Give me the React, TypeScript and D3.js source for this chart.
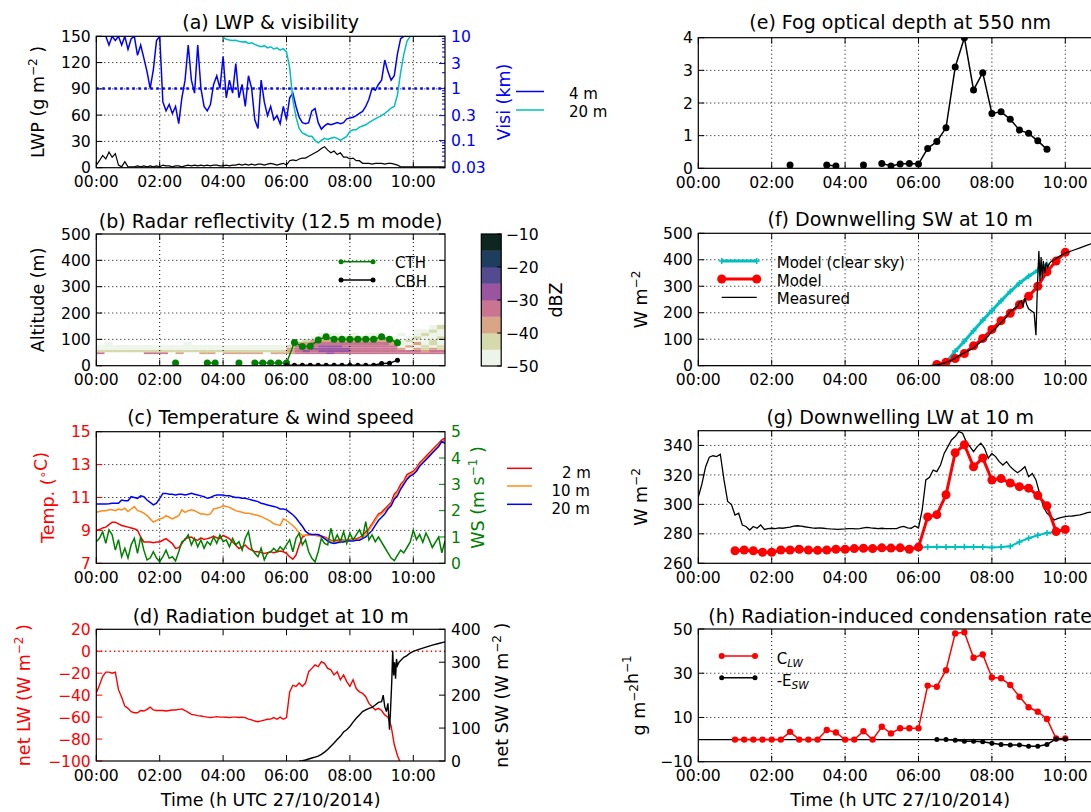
import React from "react";
import * as d3 from "d3";

type Box = { x0: number; x1: number; y0: number; y1: number };

const W = 1091;
const H = 812;
const FONT = "'DejaVu Sans', 'Liberation Sans', Arial, sans-serif";
const FS_TICK = 15.6;
const FS_LABEL = 17.5;
const FS_TITLE = 19;
const FS_LEG = 15;

const BLUE = "#0000ff";
const CYAN = "#00bfbf";
const RED = "#ff0000";
const GREEN = "#008000";
const ORANGE = "#ff8c1a";

const hourTicks = [0, 2, 4, 6, 8, 10];
const hourLabels = ["00:00", "02:00", "04:00", "06:00", "08:00", "10:00"];

const _ = null;

// ---------- time stamps ----------
const t6min = d3.range(111).map((i) => i / 10); // 00:00 .. 11:00 every 6 min
const tVis20 = d3.range(40, 111).map((i) => i / 10); // 04:00 .. 11:00
const tNetLW = d3.range(98).map((i) => i / 10); // 00:00 .. 09:42
const tQuarter = d3.range(37).map((i) => 1 + i / 4); // 01:00 .. 10:00
const tCth = d3.range(39).map((i) => i / 4); // 00:00 .. 09:30
const tCbh = d3.range(15).map((i) => 6 + i / 4); // 06:00 .. 09:30
const tSwModel = d3.range(15).map((i) => 6.5 + i / 4); // 06:30 .. 10:00
const tSwClear = d3.range(13).map((i) => 6.5 + i / 4); // 06:30 .. 09:30
const tEsw = d3.range(15).map((i) => 6.5 + i / 4);

// ---------- (a) LWP & visibility ----------
const lwp = [
  3, 8, 14, 10, 18, 12, 16, 3, 1, 7,
  1, 1, 1, 2, 1, 2, 1, 2, 1, 2,
  1, 3, 2, 2, 1, 2, 2, 1, 2, 3,
  2, 3, 2, 3, 2, 3, 2, 3, 3, 2,
  2, 3, 2, 3, 3, 4, 3, 4, 3, 4,
  3, 4, 4, 3, 4, 5, 4, 3, 4, 5,
  3, 8, 9, 8, 10, 11, 11, 13, 15, 17,
  19, 22, 24, 20, 17, 19, 15, 17, 12, 12,
  10, 11, 8, 8, 5, 5, 5, 4, 5, 5,
  5, 4, 5, 5, 4, 3, 1, 1, 1, 1,
  1, 1, 1, 1, 1, 1, 1, 1, 1, 1, 1,
];
const vis4m = [
  10, 10, 10, 10, 6.8, 10, 8.3, 10, 6.8, 10,
  5.6, 9, 10, 4.3, 6.8, 3.8, 2.1, 1.0, 2.3, 8.3,
  10, 0.55, 0.37, 0.49, 0.33, 0.45, 0.21, 0.66, 1.44, 6.8,
  1.44, 0.81, 6.8, 1.0, 0.45, 0.37, 0.49, 1.19, 1.75, 1.0,
  4.1, 0.66, 1.44, 0.81, 3.0, 0.66, 1.19, 0.45, 1.75, 1.0,
  0.25, 0.17, 1.44, 0.55, 0.3, 0.45, 0.25, 0.3, 0.21, 0.45,
  0.25, 0.66, 0.81, 0.45, 0.28, 0.22, 0.21, 0.22, 0.37, 0.41,
  0.22, 0.165, 0.19, 0.21, 0.2, 0.21, 0.22, 0.21, 0.22, 0.26,
  0.27, 0.28, 0.3, 0.33, 0.36, 0.45, 0.62, 1.0, 0.92, 1.19,
  1.44, 3.5, 2.1, 1.44, 1.75, 4.6, 9, 10, 10, 10,
  10, 10, 10, 10, 10, 10, 10, 10, 10, 10, 10,
];
const vis20m = [
  9.5, 8.8, 8.5, 8.3, 8.4, 8.0, 7.8, 7.9, 7.3, 7.5,
  7.0, 6.6, 6.3, 6.6, 6.0, 6.3, 5.7, 6.0, 5.4, 5.8,
  5.0, 2.5, 0.6, 0.28, 0.17, 0.14, 0.13, 0.12, 0.12, 0.1,
  0.09, 0.1, 0.11, 0.105, 0.11, 0.115, 0.11, 0.1, 0.11, 0.12,
  0.15, 0.16, 0.16, 0.18, 0.19, 0.2, 0.22, 0.24, 0.26, 0.28,
  0.3, 0.33, 0.37, 0.42, 0.45, 0.75, 2.0, 4.5, 8, 10,
  10, 10, 10, 10, 10, 10, 10, 10, 10, 10, 10,
];
const visTicks = [0.03, 0.1, 0.3, 1, 3, 10];
const visMinor = [0.04, 0.05, 0.06, 0.07, 0.08, 0.09, 0.2, 0.4, 0.5, 0.6, 0.7, 0.8, 0.9, 2, 4, 5, 6, 7, 8, 9];

// ---------- (b) radar ----------
const radarAltEdges = [44, 51, 60, 69, 78, 90, 100, 112, 125, 138, 155];
const radarRows = [
  [-33, _, _, _, _, _, -33, -34, -33, _, -37, _, _, -38, -37, _, -38, -37, -38, -36, -38, _, -38, -37,
    -36, -33, -32, -32, -31, -30, -31, -32, -31, -32, -31, -32, -33, -32, -32, -33, -32, -31, -33, -32],
  [-43, -43, -42, -43, -43, -44, -43, -43, -42, -43, -43, -43, -44, -43, -43, -42, -43, -43, -43, -44, -43, -43, -42, -43,
    -36, -33, -30, -31, -28, -27, -29, -30, -31, -31, -32, -31, -32, -33, -34, -35, -33, -36, -34, -35],
  [-47, -47, -47, -46, -47, -47, -47, -47, -46, -47, -47, -47, -47, -47, -46, -47, -47, -47, -47, -47, -46, -47, -47, -47,
    -40, -33, -31, -30, -27, -26, -28, -30, -31, -32, -31, -33, -32, -34, -38, -46, -37, -44, -38, -45],
  [-48.5, -48.5, -48.5, -48.5, -48.5, -48.5, -48.5, -48.5, -48.5, -48.5, -48.5, -48.5, -48.5, -48.5, -48.5, -48.5, -48.5, -48.5, -48.5, -48.5, -48.5, -48.5, -48.5, -48.5,
    -45, -34, -32, -31, -28, -27, -29, -31, -32, -31, -33, -32, -33, -35, -46, -38, -47, -41, -46, -42],
  [_, -49, _, _, _, _, _, _, _, _, _, -49, _, _, _, _, _, _, _, _, _, _, _, _,
    _, -38, -36, -34, -33, -32, -33, -34, -34, -33, -34, -35, -34, -37, -47, -46, -40, -47, -44, -47],
  [_, _, _, _, _, _, _, _, _, _, _, _, _, _, _, _, _, _, _, _, _, _, _, _,
    _, -46, -44, -40, -38, -37, -39, -38, -38, -39, -38, -37, -39, -42, -48, -42, -47, -46, -41, -47],
  [_, _, _, _, _, _, _, _, _, _, _, _, _, _, _, _, _, _, _, _, _, _, _, _,
    _, _, _, -47, -44, -42, -44, -45, -44, -43, -45, -43, -46, -48, _, -47, -43, -48, -46, -41],
  [_, _, _, _, _, _, _, _, _, _, _, _, _, _, _, _, _, _, _, _, _, _, _, _,
    _, _, _, _, -48, -47, -48, _, -48, _, -48, -47, _, _, -48, _, -47, -42, -48, -46],
  [_, _, _, _, _, _, _, _, _, _, _, _, _, _, _, _, _, _, _, _, _, _, _, _,
    _, _, _, _, _, _, _, _, _, _, _, _, _, _, _, _, -48, -47, -44, -48],
  [_, _, _, _, _, _, _, _, _, _, _, _, _, _, _, _, _, _, _, _, _, _, _, _,
    _, _, _, _, _, _, _, _, _, _, _, _, _, _, _, _, _, _, -48, -44],
];
const dbzBounds = [-50, -45, -40, -35, -30, -25, -20, -15, -10];
const dbzColors = ["#edf5ea", "#d5d9ac", "#d8a587", "#c97592", "#9a55a1", "#534a90", "#1e3e5e", "#0d2620"];
const dbzTicks = [-50, -40, -30, -20, -10];
const cth = [
  _, _, _, _, _, _, _, _, _, _, 10, _, _, _, 10, 10, _, _, 10, _,
  10, 10, 10, 10, 10, 88, 73, 74, 98, 110, 100, 100, 100, 100, 100, 100, 110, 100, 87,
];
const cbh = [2, 2, 2, 2, 2, 2, 2, 2, 2, 2, 2, 2, 8, 9, 21];

// ---------- (c) temperature & wind ----------
const temp2m = [
  9.0, 9.05, 9.15, 9.2, 9.35, 9.5, 9.5, 9.4, 9.3, 9.25,
  9.2, 9.15, 9.1, 9.0, 8.6, 8.3, 8.3, 8.3, 8.25, 8.3,
  8.3, 8.4, 8.5, 8.35, 8.2, 7.9, 7.95, 8.2, 8.5, 8.55,
  8.6, 8.45, 8.4, 8.55, 8.45, 8.5, 8.55, 8.65, 8.55, 8.5,
  8.7, 8.6, 8.5, 8.3, 8.1, 7.9, 8.0, 8.1, 7.9, 7.8,
  7.7, 7.7, 7.65, 7.6, 7.65, 7.7, 7.65, 7.7, 7.75, 7.7,
  7.6, 7.4, 7.25, 7.5, 8.1, 8.6, 8.7, 8.7, 8.7, 8.75,
  8.7, 8.65, 8.6, 8.5, 8.4, 8.35, 8.4, 8.45, 8.4, 8.4,
  8.45, 8.5, 8.5, 8.55, 8.7, 8.9, 9.1, 9.4, 9.7, 10.0,
  10.1, 10.3, 10.5, 10.7, 11.2, 11.4, 11.8, 12.0, 12.4, 12.5,
  12.6, 12.8, 13.1, 13.3, 13.5, 13.7, 13.9, 14.1, 14.3, 14.5, 14.6,
];
const temp10m = [
  10.1, 10.15, 10.2, 10.2, 10.25, 10.25, 10.2, 10.3, 10.25, 10.35,
  10.15, 10.3, 10.45, 10.2, 10.15, 10.05, 9.9, 9.7, 9.5, 9.6,
  9.7, 9.75, 9.9, 9.8, 9.7, 9.8, 9.9, 10.25, 10.1, 10.2,
  10.25, 10.2, 10.1, 10.0, 10.0, 9.95, 10.0, 10.3, 10.35, 10.4,
  10.5, 10.45, 10.4, 10.3, 10.2, 10.15, 10.1, 10.05, 10.05, 10.0,
  9.95, 9.9, 9.85, 9.75, 9.65, 9.55, 9.4, 9.35, 9.3, 9.7,
  9.6, 9.45, 9.3, 9.1, 8.85, 8.7, 8.7, 8.7, 8.7, 8.7,
  8.65, 8.6, 8.55, 8.45, 8.35, 8.3, 8.3, 8.35, 8.35, 8.35,
  8.4, 8.45, 8.45, 8.5, 8.6, 8.75, 9.0, 9.3, 9.6, 9.9,
  10.0, 10.2, 10.4, 10.6, 11.0, 11.3, 11.6, 11.9, 12.2, 12.4,
  12.5, 12.7, 13.0, 13.2, 13.4, 13.6, 13.8, 14.0, 14.2, 14.4, 14.5,
];
const temp20m = [
  10.6, 10.6, 10.6, 10.6, 10.62, 10.65, 10.65, 10.65, 10.85, 10.8,
  10.8, 11.05, 11.0, 10.95, 11.1, 11.05, 10.85, 10.7, 10.55, 10.65,
  10.95, 11.25, 11.25, 11.2, 11.2, 11.15, 11.2, 11.2, 11.15, 11.2,
  11.25, 11.2, 11.15, 11.1, 11.05, 10.95, 11.0, 11.1, 11.15, 11.15,
  11.15, 11.1, 11.1, 11.05, 11.0, 11.0, 10.95, 10.95, 10.9, 10.85,
  10.8, 10.75, 10.65, 10.6, 10.55, 10.5, 10.45, 10.4, 10.3, 10.3,
  10.25, 10.1, 9.95, 9.75, 9.5, 9.25, 8.95, 8.8, 8.75, 8.75,
  8.75, 8.65, 8.5, 8.35, 8.25, 8.2, 8.25, 8.3, 8.3, 8.35,
  8.35, 8.35, 8.4, 8.4, 8.5, 8.6, 8.8, 9.0, 9.3, 9.6,
  9.8, 10.0, 10.3, 10.5, 10.9, 11.1, 11.5, 11.8, 12.1, 12.3,
  12.4, 12.6, 12.9, 13.1, 13.3, 13.5, 13.7, 13.9, 14.1, 14.4, 14.3,
];
const windSpeed = [
  0.82, 0.95, 1.2, 0.76, 1.27, 1.08, 0.5, 0.9, 0.25, 0.57,
  0.2, 0.7, 0.95, 0.38, 1.0, 0.5, 0.13, 0.2, 0.44, 0.2,
  0.06, 0.25, 0.5, 0.19, 0.25, 0.09, 0.44, 0.82, 0.89, 1.08,
  0.7, 0.95, 0.63, 0.89, 0.57, 0.82, 0.7, 1.0, 0.76, 1.08,
  0.82, 0.89, 0.63, 0.95, 0.7, 0.82, 0.5, 0.95, 1.2, 0.57,
  0.38, 0.25, 0.57, 0.13, 0.38, 0.44, 0.57, 0.44, 0.63, 0.5,
  0.7, 0.89, 0.44, 0.95, 1.14, 0.7, 0.89, 0.44, 0.19, 0.06,
  0.44, 0.95, 0.76, 0.7, 1.33, 0.82, 1.08, 0.82, 1.2, 0.76,
  1.14, 0.89, 1.08, 1.27, 1.0, 1.58, 0.89, 1.08, 0.82, 1.0,
  0.8, 0.6, 0.4, 0.2, 0.1, 0.3, 0.5, 0.4, 0.6, 0.8,
  1.25, 0.9, 1.1, 0.8, 1.15, 0.9, 0.6, 0.8, 1.0, 0.4, 0.85,
];

// ---------- (d) radiation budget ----------
const netLW = [
  -38, -31, -23, -19, -19, -20, -19, -35, -42, -50,
  -52, -55, -56, -56, -54, -54.5, -53, -51, -53.5, -54,
  -54, -54, -54.5, -54, -53.5, -53.5, -53, -52.5, -54, -55.7,
  -57.5, -58, -58.7, -59, -59.6, -60, -60.5, -60, -59.6, -60,
  -60, -60.2, -60.5, -60, -60, -60.3, -60, -60.5, -61.8, -62.5,
  -63.6, -64.2, -63.5, -62.7, -62, -61.8, -60.5, -62, -60, -62,
  -60.5, -37, -31, -32, -29, -32, -29, -18.6, -15.6, -12.5,
  -14, -9.5, -11, -15.6, -17, -21.6, -18.6, -26, -21.6, -27.7,
  -32, -26, -34, -37, -38.4, -41.4, -47.5, -50.5, -53.5, -52,
  -54, -58, -60, -68, -85, -95, -102, -110,
];
const tNetSW = [
  6.4, 6.5, 6.6, 6.7, 6.8, 6.9, 7.0, 7.1, 7.2, 7.3, 7.4, 7.5, 7.6, 7.7, 7.8, 7.9, 8.0, 8.1, 8.2, 8.3,
  8.4, 8.5, 8.6, 8.7, 8.8, 8.9, 9.0, 9.05, 9.1, 9.15, 9.2, 9.25, 9.28, 9.32, 9.35, 9.38, 9.41, 9.44, 9.47, 9.5,
  9.55, 9.6, 9.7, 9.8, 9.9, 10.0, 10.2, 10.4, 10.6, 10.8, 11.0,
];
const netSW = [
  0, 1, 3, 6, 9, 12, 15, 20, 27, 35, 45, 55, 65, 75, 88, 95, 105, 118, 130, 140,
  150, 155, 160, 163, 170, 178, 180, 200, 165, 150, 175, 95, 150, 240, 335, 260, 300, 250, 310, 290,
  300, 305, 315, 320, 328, 333, 340, 346, 352, 357, 362,
];

// ---------- (e) optical depth ----------
const tTau = [2.5, 3.5, 3.75, 4.5, 5.0, 5.25, 5.5, 5.75, 6.0, 6.25, 6.5, 6.75, 7.0, 7.25, 7.5, 7.75, 8.0, 8.25, 8.5, 8.75, 9.0, 9.25, 9.5];
const tau = [0.1, 0.1, 0.07, 0.1, 0.15, 0.07, 0.13, 0.15, 0.13, 0.61, 0.82, 1.24, 3.1, 4.0, 2.4, 2.93, 1.68, 1.73, 1.5, 1.17, 1.07, 0.84, 0.58];

// ---------- (f) downwelling SW ----------
const swClear = [0, 12, 55, 92, 132, 172, 208, 245, 280, 312, 338, 360, 382];
const swModel = [5, 13, 27, 46, 75, 103, 137, 170, 198, 230, 262, 300, 355, 395, 428];
const tSwMeas = [
  0, 6.3, 6.5, 6.7, 6.9, 7.1, 7.3, 7.5, 7.7, 7.8, 7.9, 8.0, 8.1, 8.2, 8.3, 8.4, 8.5, 8.6, 8.7, 8.75,
  8.8, 8.85, 8.9, 8.95, 9.0, 9.1, 9.15, 9.2, 9.24, 9.28, 9.31, 9.34, 9.37, 9.4, 9.44, 9.48, 9.52, 9.56, 9.6, 9.7,
  9.8, 9.9, 10.0, 10.2, 10.4, 10.6, 10.8, 11.0,
];
const swMeas = [
  0, 0, 3, 10, 20, 38, 52, 67, 90, 98, 112, 130, 140, 155, 170, 185, 205, 215, 225, 240,
  245, 225, 255, 230, 215, 205, 200, 115, 300, 433, 320, 410, 330, 395, 350, 390, 370, 385, 392, 400,
  410, 418, 425, 435, 445, 455, 465, 474,
];

// ---------- (g) downwelling LW ----------
const lwMeas = [
  305, 314, 325.6, 332, 333, 332.4, 334, 316.6, 302, 300,
  292.8, 294, 286, 285, 282.6, 285, 283.8, 286, 283, 283.5,
  283.8, 283.5, 284, 283.8, 284.2, 284.5, 285.3, 285.5, 285.3, 284.8,
  284.4, 284, 283.8, 284, 283.8, 283.5, 283.3, 283.2, 283, 283.2,
  283.3, 283.5, 283.5, 283.4, 283.5, 284, 284.4, 284, 283.8, 283.5,
  283.8, 283.5, 283.5, 283.6, 283.5, 284.5, 285, 284, 283.8, 285.3,
  284, 296.2, 316.6, 318.4, 323.3, 322.2, 326.7, 334.6, 339.2, 343.7,
  346, 349.4, 348.3, 342.6, 339.2, 335.8, 339.2, 341.5, 338, 331.3,
  334.6, 332.4, 329, 326.7, 329, 325.6, 323.3, 321.5, 323.3, 325.6,
  318.8, 321, 316.6, 307.5, 298.5, 294, 291.7, 289.4, 290.5, 291.2,
  291.7, 292, 292.1, 292.5, 292.8, 293.5, 294.4, 294.8, 295, 295.5, 296,
];
const lwModel = [
  268.5, 269, 268.5, 267.5, 267.5, 269, 269, 269.5, 269, 268.8,
  269, 269.5, 269.5, 270, 270.2, 270, 270.5, 270.3, 270.5, 269.5,
  271, 291.5, 293, 306.5, 335, 340.5, 325.5, 331.5, 316.5, 317.5,
  314.5, 312, 311, 306, 299, 281.5, 283,
];
const lwClear = [
  268, 268.5, 268, 267, 267, 268.5, 268.3, 269, 268.5, 268.3,
  268.5, 269, 269, 269.5, 269.7, 269.5, 270, 269.8, 270, 269.2,
  270.5, 271, 271.2, 271, 271, 271.2, 271, 271, 270.8, 271,
  271.5, 274.5, 277, 279, 280.5, 281.5, 283,
];

// ---------- (h) condensation rate ----------
const cLW = [
  0, 0, 0, 0, 0, 0, 3.5, 0, 0, 0,
  4.3, 3.2, 0, 0, 3.8, 0, 5.8, 2.8, 5.1, 5.1,
  5.1, 24.4, 23.9, 31.4, 48, 48.5, 37, 38.5, 28.1, 27.7,
  24.7, 19.4, 14.6, 12.6, 9.3, 0.5, 0.5,
];
const eSW = [0, 0, -0.3, -0.7, -0.7, -1, -1.7, -2.2, -2.5, -2.5, -3, -3, -2.2, 0.3, 0.3];

// ---------- layout ----------
const xL = d3.scaleLinear().domain([0, 11]).range([96.3, 445]);
const xR = d3.scaleLinear().domain([0, 11]).range([698.3, 1102]);

const boxA: Box = { x0: 96.3, x1: 445, y0: 36.3, y1: 167.7 };
const boxB: Box = { x0: 96.3, x1: 445, y0: 234, y1: 365.7 };
const boxC: Box = { x0: 96.3, x1: 445, y0: 431.7, y1: 563.3 };
const boxD: Box = { x0: 96.3, x1: 445, y0: 629.3, y1: 761 };
const boxE: Box = { x0: 698.3, x1: 1102, y0: 37.7, y1: 168.3 };
const boxF: Box = { x0: 698.3, x1: 1102, y0: 233.3, y1: 365.7 };
const boxG: Box = { x0: 698.3, x1: 1102, y0: 430.7, y1: 563.3 };
const boxH: Box = { x0: 698.3, x1: 1102, y0: 629, y1: 761.7 };
const cbar: Box = { x0: 481.3, x1: 501.2, y0: 234, y1: 366 };

const fmtNum = (v: number) => (v < 0 ? `\u2212${Math.abs(v)}` : `${v}`);
const midY = (b: Box) => (b.y0 + b.y1) / 2;
const midX = (b: Box) => (b.x0 + b.x1) / 2;

function linePath(ts: number[], vs: (number | null)[], x: any, y: any, maxGap = 1) {
  const pts: { t: number; v: number | null }[] = [];
  ts.forEach((t, i) => {
    if (i > 0 && t - ts[i - 1] > maxGap) pts.push({ t, v: null });
    pts.push({ t, v: vs[i] });
  });
  return (
    d3
      .line<{ t: number; v: number | null }>()
      .defined((d) => d.v != null)
      .x((d) => x(d.t))
      .y((d) => y(d.v as number))(pts) || ""
  );
}

function Dots({ ts, vs, x, y, r, fill }: any) {
  return (
    <g>
      {ts.map((t: number, i: number) =>
        vs[i] == null ? null : <circle key={i} cx={x(t)} cy={y(vs[i])} r={r} fill={fill} />
      )}
    </g>
  );
}

function Plus({ ts, vs, x, y, size, stroke }: any) {
  const d = ts
    .map((t: number, i: number) => {
      const px = x(t);
      const py = y(vs[i]);
      return `M${px - size},${py}H${px + size}M${px},${py - size}V${py + size}`;
    })
    .join("");
  return <path d={d} stroke={stroke} strokeWidth={1.6} fill="none" />;
}

function Clip({ id, b }: { id: string; b: Box }) {
  return (
    <clipPath id={id}>
      <rect x={b.x0} y={b.y0} width={b.x1 - b.x0} height={b.y1 - b.y0} />
    </clipPath>
  );
}

function Frame({ b }: { b: Box }) {
  return <rect x={b.x0} y={b.y0} width={b.x1 - b.x0} height={b.y1 - b.y0} fill="none" stroke="#000" strokeWidth={1.2} />;
}

function XAxis({ x, b, grid = true }: { x: any; b: Box; grid?: boolean }) {
  return (
    <g>
      {hourTicks.map((h, i) => {
        const px = x(h);
        return (
          <g key={h}>
            {grid && h > 0 && (
              <line x1={px} x2={px} y1={b.y0} y2={b.y1} stroke="#000" strokeWidth={1} strokeDasharray="1,3" />
            )}
            <line x1={px} x2={px} y1={b.y1} y2={b.y1 - 6} stroke="#000" />
            <line x1={px} x2={px} y1={b.y0} y2={b.y0 + 6} stroke="#000" />
            <text x={px} y={b.y1 + 19.5} textAnchor="middle" fontSize={FS_TICK}>
              {hourLabels[i]}
            </text>
          </g>
        );
      })}
    </g>
  );
}

function YAxis({
  y,
  b,
  ticks,
  side = "left",
  color = "#000",
  grid = false,
  mirror = false,
  fmt = fmtNum,
  minor = [],
}: any) {
  const left = side === "left";
  const xa = left ? b.x0 : b.x1;
  const dir = left ? 1 : -1;
  return (
    <g>
      {grid &&
        ticks
          .filter((t: number) => y(t) > b.y0 + 1 && y(t) < b.y1 - 1)
          .map((t: number) => (
            <line key={"g" + t} x1={b.x0} x2={b.x1} y1={y(t)} y2={y(t)} stroke="#000" strokeWidth={1} strokeDasharray="1,3" />
          ))}
      {ticks.map((t: number) => (
        <g key={t}>
          <line x1={xa} x2={xa + dir * 6} y1={y(t)} y2={y(t)} stroke={color} />
          {mirror && <line x1={b.x1} x2={b.x1 - 6} y1={y(t)} y2={y(t)} stroke="#000" />}
          <text
            x={left ? xa - 5.5 : xa + 6}
            y={y(t) + 5.6}
            textAnchor={left ? "end" : "start"}
            fill={color}
            fontSize={FS_TICK}
          >
            {fmt(t)}
          </text>
        </g>
      ))}
      {minor.map((t: number) => (
        <line key={"m" + t} x1={xa} x2={xa + dir * 3} y1={y(t)} y2={y(t)} stroke={color} />
      ))}
    </g>
  );
}

function YLabel({ x, y, color = "#000", children }: any) {
  return (
    <text transform={`translate(${x},${y}) rotate(-90)`} textAnchor="middle" fontSize={FS_LABEL} fill={color}>
      {children}
    </text>
  );
}

function Title({ b, y, children }: any) {
  return (
    <text x={midX(b)} y={y} textAnchor="middle" fontSize={FS_TITLE}>
      {children}
    </text>
  );
}

const sup = (s: string, trail = " ") => (
  <>
    <tspan dy={-7} fontSize={12}>
      {s}
    </tspan>
    <tspan dy={7}>{trail}</tspan>
  </>
);

function PanelA() {
  const b = boxA;
  const y = d3.scaleLinear().domain([0, 150]).range([b.y1, b.y0]);
  const yv = d3.scaleLog().domain([0.03, 10]).range([b.y1, b.y0]);
  return (
    <g>
      <XAxis x={xL} b={b} />
      <YAxis y={y} b={b} ticks={[0, 30, 60, 90, 120, 150]} grid />
      <g clipPath="url(#clipA)">
        <path d={linePath(t6min, lwp, xL, y)} fill="none" stroke="#000" strokeWidth={1.2} />
        <line x1={b.x0} x2={b.x1} y1={yv(1)} y2={yv(1)} stroke={BLUE} strokeWidth={2.5} strokeDasharray="2.5,3.5" />
        <path d={linePath(t6min, vis4m, xL, yv)} fill="none" stroke={BLUE} strokeWidth={1.5} />
        <path d={linePath(tVis20, vis20m, xL, yv)} fill="none" stroke={CYAN} strokeWidth={1.5} />
      </g>
      <YAxis y={yv} b={b} ticks={visTicks} side="right" color={BLUE} fmt={(v: number) => `${v}`} minor={visMinor} />
      <Frame b={b} />
      <Title b={b} y={29}>(a) LWP &amp; visibility</Title>
      <YLabel x={43.5} y={midY(b)}>
        LWP (g m{sup("\u22122")})
      </YLabel>
      <YLabel x={510} y={midY(b)} color={BLUE}>
        Visi (km)
      </YLabel>
      <line x1={516} x2={544} y1={91.5} y2={91.5} stroke={BLUE} strokeWidth={1.5} />
      <line x1={516} x2={544} y1={110} y2={110} stroke={CYAN} strokeWidth={1.5} />
      <text x={569} y={99} fontSize={FS_LEG}>4 m</text>
      <text x={569} y={117} fontSize={FS_LEG}>20 m</text>
    </g>
  );
}

function PanelB() {
  const b = boxB;
  const y = d3.scaleLinear().domain([0, 500]).range([b.y1, b.y0]);
  const color = d3.scaleThreshold<number, string>().domain(dbzBounds.slice(1, -1)).range(dbzColors);
  const yCb = d3.scaleLinear().domain([-50, -10]).range([cbar.y1, cbar.y0]);
  return (
    <g>
      <g clipPath="url(#clipB)">
        {radarRows.map((row, ri) =>
          row.map((v, ci) =>
            v == null ? null : (
              <rect
                key={`${ri}-${ci}`}
                x={xL(ci / 4)}
                y={y(radarAltEdges[ri + 1])}
                width={xL((ci + 1) / 4) - xL(ci / 4) + 0.3}
                height={y(radarAltEdges[ri]) - y(radarAltEdges[ri + 1])}
                fill={color(v)}
              />
            )
          )
        )}
      </g>
      <XAxis x={xL} b={b} />
      <YAxis y={y} b={b} ticks={[0, 100, 200, 300, 400, 500]} grid mirror />
      <g clipPath="url(#clipB)">
        <path d={linePath(tCth, cth, xL, y)} fill="none" stroke={GREEN} strokeWidth={1.5} />
        <Dots ts={tCth} vs={cth} x={xL} y={y} r={3.5} fill={GREEN} />
        <path d={linePath(tCbh, cbh, xL, y)} fill="none" stroke="#000" strokeWidth={1.5} />
        <Dots ts={tCbh} vs={cbh} x={xL} y={y} r={2.5} fill="#000" />
      </g>
      <Frame b={b} />
      <Title b={b} y={228}>(b) Radar reflectivity (12.5 m mode)</Title>
      <YLabel x={43.5} y={midY(b)}>Altitude (m)</YLabel>
      {/* legend */}
      <line x1={341} x2={373} y1={261.7} y2={261.7} stroke={GREEN} strokeWidth={1.5} />
      <circle cx={341} cy={261.7} r={2.5} fill={GREEN} />
      <circle cx={373} cy={261.7} r={2.5} fill={GREEN} />
      <text x={395} y={268} fontSize={FS_LEG}>CTH</text>
      <line x1={341} x2={373} y1={280} y2={280} stroke="#000" strokeWidth={1.5} />
      <circle cx={341} cy={280} r={2.5} fill="#000" />
      <circle cx={373} cy={280} r={2.5} fill="#000" />
      <text x={395} y={287} fontSize={FS_LEG}>CBH</text>
      {/* colorbar */}
      {dbzColors.map((c, i) => (
        <rect
          key={c}
          x={cbar.x0}
          y={yCb(dbzBounds[i + 1])}
          width={cbar.x1 - cbar.x0}
          height={yCb(dbzBounds[i]) - yCb(dbzBounds[i + 1]) + 0.3}
          fill={c}
        />
      ))}
      <Frame b={cbar} />
      {dbzTicks.map((t) => (
        <g key={t}>
          <line x1={cbar.x1} x2={cbar.x1 - 4} y1={yCb(t)} y2={yCb(t)} stroke="#000" />
          <text x={cbar.x1 + 4.5} y={yCb(t) + 5.6} fontSize={FS_TICK}>
            {fmtNum(t)}
          </text>
        </g>
      ))}
      <YLabel x={561.5} y={midY(cbar)}>dBZ</YLabel>
    </g>
  );
}

function PanelC() {
  const b = boxC;
  const y = d3.scaleLinear().domain([7, 15]).range([b.y1, b.y0]);
  const yw = d3.scaleLinear().domain([0, 5]).range([b.y1, b.y0]);
  return (
    <g>
      <XAxis x={xL} b={b} />
      <YAxis y={y} b={b} ticks={[7, 9, 11, 13, 15]} grid color={RED} />
      <g clipPath="url(#clipC)">
        <path d={linePath(t6min, temp2m, xL, y)} fill="none" stroke={RED} strokeWidth={1.5} />
        <path d={linePath(t6min, temp10m, xL, y)} fill="none" stroke={ORANGE} strokeWidth={1.5} />
        <path d={linePath(t6min, temp20m, xL, y)} fill="none" stroke={BLUE} strokeWidth={1.5} />
        <path d={linePath(t6min, windSpeed, xL, yw)} fill="none" stroke={GREEN} strokeWidth={1.5} />
      </g>
      <YAxis y={yw} b={b} ticks={[0, 1, 2, 3, 4, 5]} side="right" color={GREEN} />
      <Frame b={b} />
      <Title b={b} y={424}>(c) Temperature &amp; wind speed</Title>
      <YLabel x={54} y={midY(b)} color={RED}>
        Temp. ({sup("\u2218", "")}C)
      </YLabel>
      <YLabel x={484} y={midY(b)} color={GREEN}>
        WS (m s{sup("\u22121")})
      </YLabel>
      <line x1={507} x2={532} y1={468.3} y2={468.3} stroke={RED} strokeWidth={1.5} />
      <line x1={507} x2={532} y1={486} y2={486} stroke={ORANGE} strokeWidth={1.5} />
      <line x1={507} x2={532} y1={504.3} y2={504.3} stroke={BLUE} strokeWidth={1.5} />
      <text x={562} y={477.5} fontSize={FS_LEG}>2 m</text>
      <text x={551.5} y={495.5} fontSize={FS_LEG}>10 m</text>
      <text x={551.5} y={513.5} fontSize={FS_LEG}>20 m</text>
    </g>
  );
}

function PanelD() {
  const b = boxD;
  const y = d3.scaleLinear().domain([-100, 20]).range([b.y1, b.y0]);
  const ys = d3.scaleLinear().domain([0, 400]).range([b.y1, b.y0]);
  return (
    <g>
      <XAxis x={xL} b={b} grid={false} />
      <YAxis y={y} b={b} ticks={[-100, -80, -60, -40, -20, 0, 20]} color={RED} />
      <g clipPath="url(#clipD)">
        <line x1={b.x0} x2={b.x1} y1={y(0)} y2={y(0)} stroke={RED} strokeWidth={1.4} strokeDasharray="1.4,3" />
        <path d={linePath(tNetLW, netLW, xL, y)} fill="none" stroke={RED} strokeWidth={1.4} />
        <path d={linePath(tNetSW, netSW, xL, ys)} fill="none" stroke="#000" strokeWidth={1.4} />
      </g>
      <YAxis y={ys} b={b} ticks={[0, 100, 200, 300, 400]} side="right" />
      <Frame b={b} />
      <Title b={b} y={622.5}>(d) Radiation budget at 10 m</Title>
      <YLabel x={29.5} y={midY(b)} color={RED}>
        net LW (W m{sup("\u22122")})
      </YLabel>
      <YLabel x={507.5} y={midY(b)}>
        net SW (W m{sup("\u22122")})
      </YLabel>
      <text x={midX(b)} y={806} textAnchor="middle" fontSize={FS_LABEL}>
        Time (h UTC 27/10/2014)
      </text>
    </g>
  );
}

function PanelE() {
  const b = boxE;
  const y = d3.scaleLinear().domain([0, 4]).range([b.y1, b.y0]);
  return (
    <g>
      <XAxis x={xR} b={b} />
      <YAxis y={y} b={b} ticks={[0, 1, 2, 3, 4]} grid mirror />
      <g clipPath="url(#clipE)">
        <path d={linePath(tTau, tau, xR, y, 0.3)} fill="none" stroke="#000" strokeWidth={1.5} />
        <Dots ts={tTau} vs={tau} x={xR} y={y} r={3.5} fill="#000" />
      </g>
      <Frame b={b} />
      <Title b={b} y={29}>(e) Fog optical depth at 550 nm</Title>
    </g>
  );
}

function PanelF() {
  const b = boxF;
  const y = d3.scaleLinear().domain([0, 500]).range([b.y1, b.y0]);
  return (
    <g>
      <XAxis x={xR} b={b} />
      <YAxis y={y} b={b} ticks={[0, 100, 200, 300, 400, 500]} grid mirror />
      <g clipPath="url(#clipF)">
        <path d={linePath(tSwClear, swClear, xR, y)} fill="none" stroke={CYAN} strokeWidth={3} />
        <Plus ts={tSwClear} vs={swClear} x={xR} y={y} size={3} stroke={CYAN} />
        <path d={linePath(tSwModel, swModel, xR, y)} fill="none" stroke={RED} strokeWidth={3} />
        <Dots ts={tSwModel} vs={swModel} x={xR} y={y} r={4.5} fill={RED} />
        <path d={linePath(tSwMeas, swMeas, xR, y, 7)} fill="none" stroke="#000" strokeWidth={1.3} />
      </g>
      <Frame b={b} />
      <Title b={b} y={226}>(f) Downwelling SW at 10 m</Title>
      <YLabel x={646.5} y={midY(b)}>
        W m{sup("\u22122")}
      </YLabel>
      <line x1={721.7} x2={756.7} y1={261} y2={261} stroke={CYAN} strokeWidth={3} />
      <path d="M718.7,261H724.7M721.7,258V264M753.7,261H759.7M756.7,258V264" stroke={CYAN} strokeWidth={1.6} />
      <line x1={721.7} x2={756.7} y1={279} y2={279} stroke={RED} strokeWidth={3} />
      <circle cx={721.7} cy={279} r={4.5} fill={RED} />
      <circle cx={756.7} cy={279} r={4.5} fill={RED} />
      <line x1={721.7} x2={756.7} y1={297.3} y2={297.3} stroke="#000" strokeWidth={1.3} />
      <text x={776.7} y={267.5} fontSize={FS_LEG}>Model (clear sky)</text>
      <text x={776.7} y={285.5} fontSize={FS_LEG}>Model</text>
      <text x={776.7} y={303.5} fontSize={FS_LEG}>Measured</text>
    </g>
  );
}

function PanelG() {
  const b = boxG;
  const y = d3.scaleLinear().domain([260, 350]).range([b.y1, b.y0]);
  return (
    <g>
      <XAxis x={xR} b={b} />
      <YAxis y={y} b={b} ticks={[260, 280, 300, 320, 340]} grid mirror />
      <g clipPath="url(#clipG)">
        <path d={linePath(tQuarter, lwClear, xR, y)} fill="none" stroke={CYAN} strokeWidth={2} />
        <Plus ts={tQuarter} vs={lwClear} x={xR} y={y} size={3} stroke={CYAN} />
        <path d={linePath(t6min, lwMeas, xR, y)} fill="none" stroke="#000" strokeWidth={1.3} />
        <path d={linePath(tQuarter, lwModel, xR, y)} fill="none" stroke={RED} strokeWidth={3} />
        <Dots ts={tQuarter} vs={lwModel} x={xR} y={y} r={4.5} fill={RED} />
      </g>
      <Frame b={b} />
      <Title b={b} y={424}>(g) Downwelling LW at 10 m</Title>
      <YLabel x={646.5} y={midY(b)}>
        W m{sup("\u22122")}
      </YLabel>
    </g>
  );
}

function PanelH() {
  const b = boxH;
  const y = d3.scaleLinear().domain([-10, 50]).range([b.y1, b.y0]);
  return (
    <g>
      <XAxis x={xR} b={b} />
      <YAxis y={y} b={b} ticks={[-10, 10, 30, 50]} grid mirror />
      <g clipPath="url(#clipH)">
        <line x1={b.x0} x2={b.x1} y1={y(0)} y2={y(0)} stroke="#000" strokeWidth={1.3} />
        <path d={linePath(tQuarter, cLW, xR, y)} fill="none" stroke={RED} strokeWidth={1.5} />
        <Dots ts={tQuarter} vs={cLW} x={xR} y={y} r={3.2} fill={RED} />
        <path d={linePath(tEsw, eSW, xR, y)} fill="none" stroke="#000" strokeWidth={1.5} />
        <Dots ts={tEsw} vs={eSW} x={xR} y={y} r={2.5} fill="#000" />
      </g>
      <Frame b={b} />
      <Title b={b} y={622.5}>(h) Radiation-induced condensation rate</Title>
      <YLabel x={645} y={midY(b)}>
        g m{sup("\u22122", "")}h<tspan dy={-7} fontSize={12}>{"\u22121"}</tspan>
      </YLabel>
      <line x1={721.7} x2={755} y1={656} y2={656} stroke={RED} strokeWidth={1.5} />
      <circle cx={721.7} cy={656} r={3} fill={RED} />
      <circle cx={755} cy={656} r={3} fill={RED} />
      <text x={776.7} y={664} fontSize={FS_LEG}>
        C<tspan dy={3} fontSize={10.5} fontStyle="italic">LW</tspan>
      </text>
      <line x1={721.7} x2={755} y1={677.7} y2={677.7} stroke="#000" strokeWidth={1.5} />
      <circle cx={721.7} cy={677.7} r={2.5} fill="#000" />
      <circle cx={755} cy={677.7} r={2.5} fill="#000" />
      <text x={776.7} y={685.5} fontSize={FS_LEG}>
        -E<tspan dy={3} fontSize={10.5} fontStyle="italic">SW</tspan>
      </text>
      <text x={midX(b)} y={806} textAnchor="middle" fontSize={FS_LABEL}>
        Time (h UTC 27/10/2014)
      </text>
    </g>
  );
}

export default function App() {
  return (
    <svg
      width={W}
      height={H}
      viewBox={`0 0 ${W} ${H}`}
      style={{ position: "absolute", left: 0, top: 0, display: "block" }}
      fontFamily={FONT}
    >
      <rect width={W} height={H} fill="#fff" />
      <defs>
        <Clip id="clipA" b={boxA} />
        <Clip id="clipB" b={boxB} />
        <Clip id="clipC" b={boxC} />
        <Clip id="clipD" b={boxD} />
        <Clip id="clipE" b={boxE} />
        <Clip id="clipF" b={boxF} />
        <Clip id="clipG" b={boxG} />
        <Clip id="clipH" b={boxH} />
      </defs>
      <PanelA />
      <PanelB />
      <PanelC />
      <PanelD />
      <PanelE />
      <PanelF />
      <PanelG />
      <PanelH />
    </svg>
  );
}
